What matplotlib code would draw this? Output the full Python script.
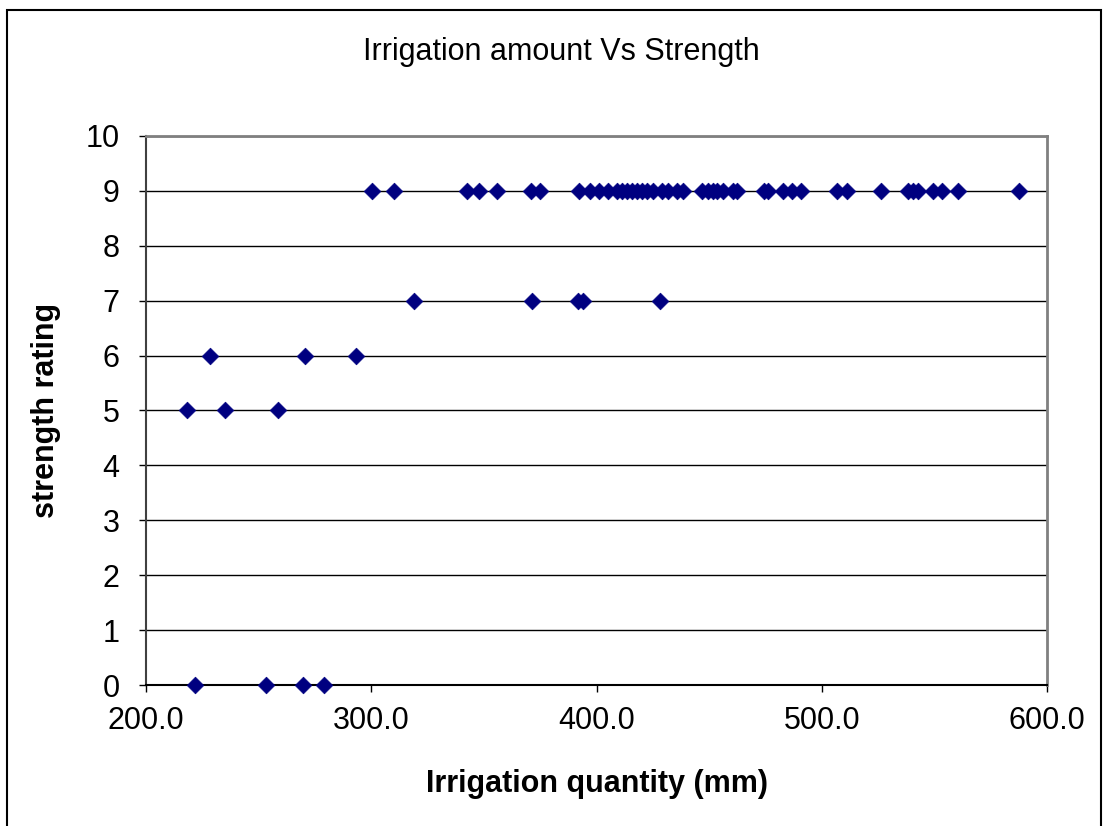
import matplotlib
matplotlib.use("Agg")
import matplotlib.pyplot as plt
from matplotlib.patches import Rectangle

plt.rcParams["font.family"] = ["Liberation Sans", "DejaVu Sans"]

# irrigation quantity (mm) grouped by strength rating
irr_9 = [300.3, 310.1, 342.5, 347.8, 355.8, 370.9, 374.9, 392.2, 397.1, 401.1,
         405.1, 409.1, 411.3, 413.5, 415.8, 418.0, 420.2, 422.4, 425.1, 429.1,
         431.7, 435.7, 438.4, 446.8, 449.5, 451.7, 453.5, 456.2, 460.6, 462.4,
         474.4, 476.0, 482.8, 486.8, 490.8, 506.8, 511.2, 526.3, 538.3, 540.5,
         542.7, 549.4, 553.4, 560.5, 587.6]
irr_7 = [319.0, 371.4, 391.8, 394.0, 428.2]
irr_6 = [228.2, 270.4, 293.1]
irr_5 = [218.1, 235.2, 258.6]
irr_0 = [221.8, 253.1, 269.6, 278.9]

irrigation = irr_9 + irr_7 + irr_6 + irr_5 + irr_0
strength = ([9] * len(irr_9) + [7] * len(irr_7) + [6] * len(irr_6)
            + [5] * len(irr_5) + [0] * len(irr_0))

x_ticks = [200.0, 300.0, 400.0, 500.0, 600.0]
y_ticks = list(range(0, 11))

fig = plt.figure(figsize=(11.08, 8.26), dpi=100)
ax = fig.add_axes([0.1318, 0.1707, 0.8132, 0.6647])

# outer chart border
W, H = 1108, 826
fig.patches.append(Rectangle((7 / W, -0.05), (1101 - 7) / W, 1.05 - 10 / H,
                             transform=fig.transFigure, fill=False,
                             edgecolor="black", linewidth=1.5))

for yv in y_ticks[1:]:
    ax.axhline(yv, color="black", linewidth=1.0, zorder=1)

ax.scatter(irrigation, strength, marker="D", s=72, color="#000080",
           edgecolors="#000080", linewidths=0.5, zorder=3, clip_on=False)

ax.set_xlim(200, 600)
ax.set_ylim(0, 10)
ax.set_xticks(x_ticks)
ax.set_xticklabels([f"{v:.1f}" for v in x_ticks])
ax.set_yticks(y_ticks)
ax.tick_params(axis="both", labelsize=22, direction="out", length=5,
               width=1, color="black")
ax.tick_params(axis="x", pad=10)
ax.tick_params(axis="y", pad=14)

for side in ["top", "right"]:
    ax.spines[side].set_color("#808080")
    ax.spines[side].set_linewidth(2)
ax.spines["left"].set_color("#404040")
ax.spines["left"].set_linewidth(1.5)
ax.spines["bottom"].set_color("black")
ax.spines["bottom"].set_linewidth(1.5)

ax.set_xlabel("Irrigation quantity (mm)", fontsize=22, fontweight="bold",
              labelpad=24)
ax.set_ylabel("strength rating", fontsize=22, fontweight="bold", labelpad=18)
fig.text(0.507, 1 - 52 / H, "Irrigation amount Vs Strength", fontsize=22,
         ha="center", va="center")

fig.savefig("out.png", dpi=100, facecolor="white")
